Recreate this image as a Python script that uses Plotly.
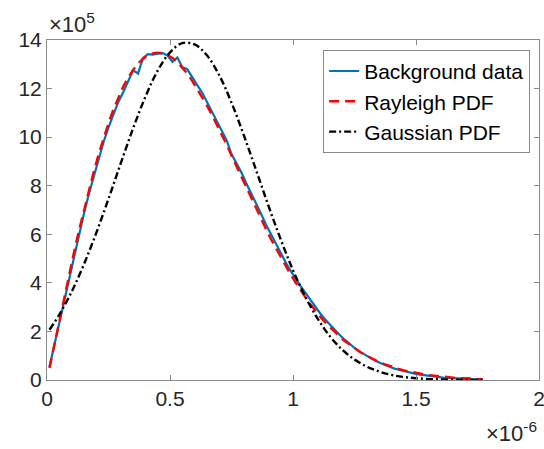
import plotly.graph_objects as go

# x in units of 1e-6, y in units of 1e5
bg_x = [round(0.01 + 0.02 * i, 2) for i in range(89)]
bg_y = [0.55, 1.45, 2.40, 3.35, 4.25, 5.15, 6.05, 6.85, 7.65, 8.40,
        9.10, 9.80, 10.40, 10.95, 11.45, 11.85, 12.30, 12.75, 12.62, 13.25,
        13.42, 13.40, 13.44, 13.46, 13.36, 13.10, 13.28, 12.88, 12.80, 12.45,
        12.15, 11.85, 11.45, 11.05, 10.65, 10.30, 9.88, 9.30, 8.95, 8.55,
        8.10, 7.70, 7.25, 6.85, 6.40, 6.00, 5.60, 5.25, 4.85, 4.50,
        4.18, 3.88, 3.60, 3.30, 3.02, 2.75, 2.50, 2.28, 2.05, 1.85,
        1.66, 1.48, 1.32, 1.18, 1.05, 0.93, 0.82, 0.72, 0.63, 0.55,
        0.48, 0.42, 0.36, 0.31, 0.27, 0.23, 0.20, 0.17, 0.14, 0.12,
        0.10, 0.085, 0.07, 0.06, 0.05, 0.04, 0.035, 0.03, 0.025]

ray_x = bg_x
ray_y = [0.494, 1.478, 2.454, 3.415, 4.356, 5.272, 6.158, 7.007, 7.817, 8.583,
         9.300, 9.967, 10.58, 11.14, 11.635, 12.08, 12.45, 12.77, 13.03, 13.23,
         13.37, 13.45, 13.48, 13.45, 13.38, 13.26, 13.09, 12.85, 12.62, 12.32,
         12.00, 11.66, 11.31, 10.92, 10.53, 10.12, 9.70, 9.24, 8.80, 8.36,
         7.92, 7.48, 7.05, 6.63, 6.22, 5.81, 5.43, 5.05, 4.69, 4.35,
         4.02, 3.70, 3.41, 3.13, 2.86, 2.62, 2.38, 2.17, 1.965, 1.78,
         1.608, 1.449, 1.30, 1.169, 1.047, 0.935, 0.833, 0.74, 0.658, 0.582,
         0.514, 0.453, 0.398, 0.350, 0.306, 0.268, 0.233, 0.203, 0.176, 0.153,
         0.132, 0.114, 0.098, 0.084, 0.072, 0.062, 0.053, 0.045, 0.038]

gau_x = [0.01, 0.05, 0.10, 0.15, 0.20, 0.25, 0.30, 0.35, 0.40, 0.45,
         0.50, 0.55, 0.60, 0.65, 0.70, 0.75, 0.80, 0.85, 0.90, 0.95,
         1.00, 1.05, 1.10, 1.15, 1.20, 1.25, 1.30, 1.35, 1.40, 1.45,
         1.50, 1.60, 1.70, 1.78]
gau_y = [2.07, 2.69, 3.63, 4.76, 6.05, 7.46, 8.93, 10.36, 11.66, 12.74,
         13.49, 13.87, 13.82, 13.37, 12.55, 11.42, 10.08, 8.64, 7.18, 5.79,
         4.52, 3.43, 2.53, 1.80, 1.25, 0.84, 0.55, 0.35, 0.21, 0.126,
         0.073, 0.022, 0.006, 0.001]

x_ticks = [0, 0.5, 1, 1.5, 2]
x_tick_labels = ["0", "0.5", "1", "1.5", "2"]
y_ticks = [0, 2, 4, 6, 8, 10, 12, 14]

FONT = "Liberation Sans, Arial, Helvetica, sans-serif"
TXT = "#262626"
AX = "#8a8a8a"

fig = go.Figure()
fig.add_trace(go.Scatter(x=bg_x, y=bg_y, mode="lines", name="Background data",
                         line=dict(color="#0072BD", width=2.2)))
fig.add_trace(go.Scatter(x=ray_x, y=ray_y, mode="lines", name="Rayleigh PDF",
                         line=dict(color="#FF0000", width=2.4, dash="10px,6px")))
fig.add_trace(go.Scatter(x=gau_x, y=gau_y, mode="lines", name="Gaussian PDF",
                         line=dict(color="#000000", width=2.4, dash="7px,3px,2px,3px",
                                   shape="spline")))

axis_common = dict(showgrid=False, zeroline=False, showline=True, linecolor=AX,
                   linewidth=1, mirror="ticks", ticks="inside", ticklen=5,
                   tickcolor=AX, automargin=False, ticklabeloverflow="allow",
                   tickfont=dict(family=FONT, size=21, color=TXT))

fig.update_xaxes(range=[0, 2], tickvals=x_ticks, ticktext=x_tick_labels, **axis_common)
fig.update_yaxes(range=[0, 14], tickvals=y_ticks, **axis_common)

fig.update_layout(
    width=544, height=449,
    margin=dict(l=47, r=5, t=40, b=69),
    paper_bgcolor="white", plot_bgcolor="white",
    font=dict(family=FONT, color=TXT),
    showlegend=True,
    legend=dict(x=0.982, y=0.971, xanchor="right", yanchor="top",
                bgcolor="white", bordercolor=AX, borderwidth=1,
                font=dict(family=FONT, size=21, color="#000000"),
                tracegroupgap=0),
    annotations=[
        dict(text="×10<sup>5</sup>", xref="paper", yref="paper", x=0, y=1,
             xanchor="left", yanchor="bottom", showarrow=False, yshift=1,
             font=dict(family=FONT, size=22, color=TXT)),
        dict(text="×10<sup>-6</sup>", xref="paper", yref="paper", x=1, y=0,
             xanchor="right", yanchor="top", showarrow=False, yshift=-36,
             font=dict(family=FONT, size=22, color=TXT)),
    ],
)

fig.write_html("out.html", config={"displayModeBar": False},
               post_script="document.body.style.margin='0';document.body.style.overflow='hidden';")
